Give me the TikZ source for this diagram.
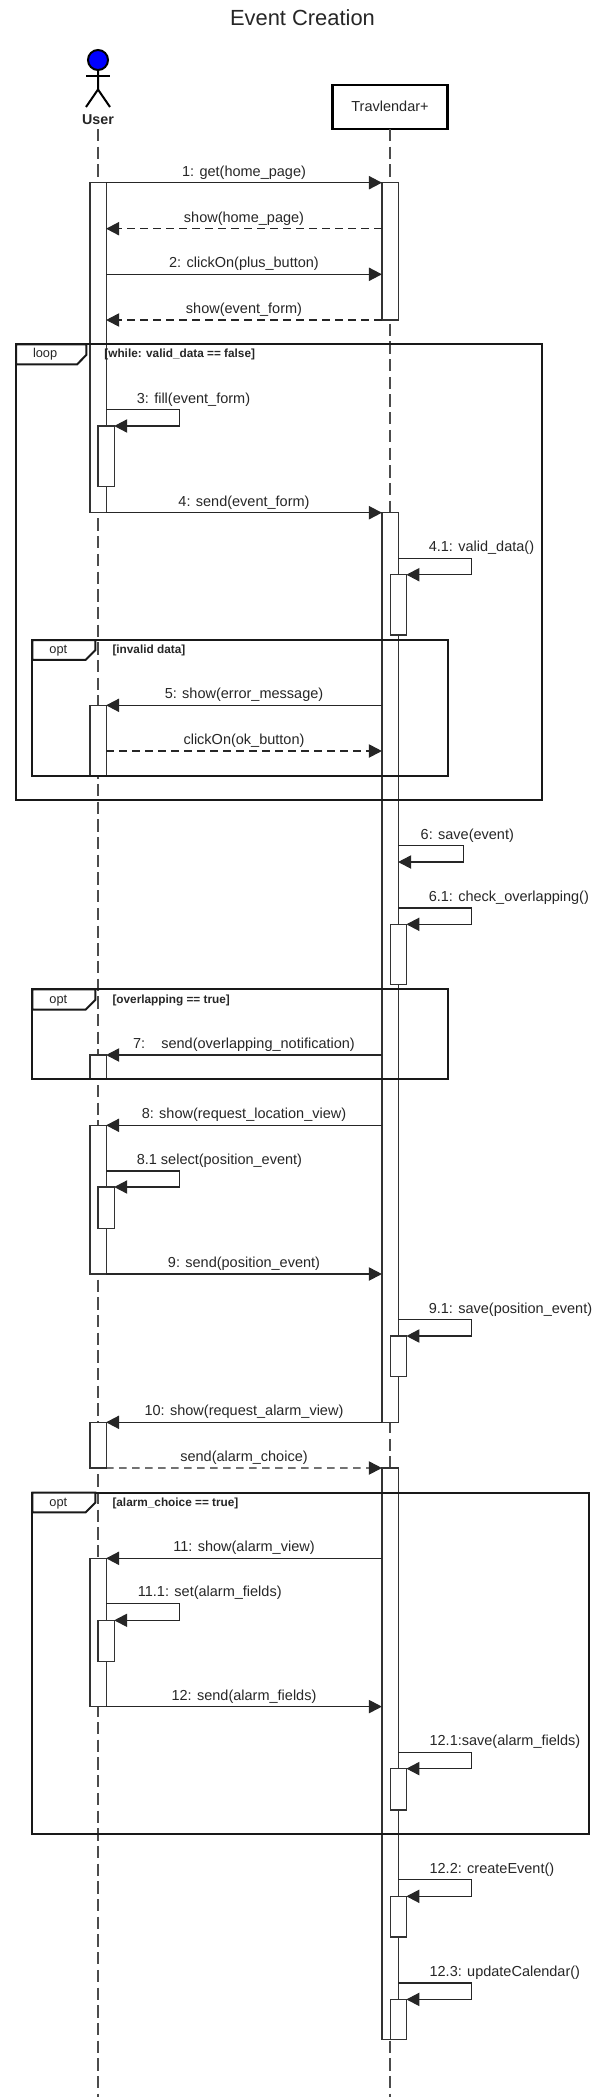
\documentclass[tikz,border=0pt]{standalone}
\usepackage{fontspec}
\setmainfont{Liberation Sans}
\usetikzlibrary{arrows.meta}

\begin{document}
\begin{tikzpicture}[x=1pt,y=-1pt,>={Triangle[length=13pt,width=13.3pt]},
                    every node/.style={text=black!85,font=\fontsize{14.5}{17}\selectfont},
                    bar/.style={rectangle,draw=black!80,fill=white,line width=1.2pt,inner sep=0pt,outer sep=0pt,anchor=north,minimum width=16.2pt},
                    frame box/.style={rectangle,draw=black!90,line width=2pt,inner sep=0pt,outer sep=0pt,anchor=north west},
                    tab/.style={draw=black!90,fill=white,line width=2pt},
                    guard/.style={anchor=west,inner sep=0pt,font=\fontsize{11.8}{14}\selectfont\bfseries},
                    tab label/.style={inner sep=0pt,font=\fontsize{12.8}{14}\selectfont},
                    self label/.style={anchor=west,inner sep=0pt},
                    life/.style={draw=black!70,line width=1.5pt,dash pattern=on 12.3pt off 5.4pt},
                    call/.style={draw=black!85,line width=1.1pt,->},
                    reply/.style={call,dash pattern=on 7.5pt off 5.5pt},
                    msg/.style={above=3pt,inner sep=0pt,midway},
                    stick/.style={draw=black,line width=2pt}]
\useasboundingbox (0,0) rectangle (605,2097);

\node (title) at (302.5,17.5) {\fontsize{21.9}{24}\selectfont Event Creation};

% user
\node[circle,draw=black,fill=blue,line width=2pt,inner sep=0pt,minimum size=20pt] (head) at (98,60) {};
\coordinate (neck) at (98,89.5);
\coordinate (armL) at (86.4,76);
\coordinate (armR) at (109.6,76);
\coordinate (legL) at (86,107);
\coordinate (legR) at (110,107);
\draw[stick] (head) -- (neck) -- (legL);
\draw[stick] (neck) -- (legR);
\draw[stick] (armL) -- (armR);
\node[inner sep=0pt,font=\fontsize{14.3}{17}\selectfont\bfseries] (user) at (98,119.5) {User};

% system
\node[rectangle,draw=black,line width=2.2pt,inner sep=0pt,outer sep=0pt,minimum width=114.9pt,minimum height=44.3pt] (sys) at (390,106.8) {Travlendar+};

\coordinate (userTop) at (98,129);
\coordinate (userEnd) at (98,2097);
\coordinate (sysEnd) at (390,2097);
\draw[life] (userTop) -- (userEnd);
\draw[life] (sys.south) -- (sysEnd);

% activations on the user side
\node[bar,minimum height=330pt] (ua) at (98,182.7) {};
\node[bar,minimum height=60.7pt] (ua1) at (106.1,426) {};
\node[bar,minimum height=70.4pt] (ub) at (98,705.3) {};
\node[bar,minimum height=24.3pt] (uc) at (98,1055) {};
\node[bar,minimum height=148.7pt] (ud) at (98,1125.3) {};
\node[bar,minimum height=41.3pt] (ud1) at (106.1,1187) {};
\node[bar,minimum height=45.7pt] (ue) at (98,1422.3) {};
\node[bar,minimum height=148.3pt] (uf) at (98,1558.3) {};
\node[bar,minimum height=41.1pt] (uf1) at (106.1,1620.3) {};

% activations on the system side
\node[bar,minimum height=137.3pt] (sa) at (390,182.7) {};
\node[bar,minimum height=909.6pt] (sb) at (390,512.7) {};
\node[bar,minimum height=571.8pt] (sc) at (390,1468) {};
\node[bar,minimum height=60.3pt] (sb1) at (398.3,574.7) {};
\node[bar,minimum height=60pt] (sb2) at (398.3,924.3) {};
\node[bar,minimum height=40.7pt] (sb3) at (398.3,1336) {};
\node[bar,minimum height=41.4pt] (sc1) at (398.3,1768.6) {};
\node[bar,minimum height=40.7pt] (sc2) at (398.3,1896.3) {};
\node[bar,minimum height=40.4pt] (sc3) at (398.3,1999.4) {};

% heights of the messages
\coordinate (m2) at (390,228.7);
\coordinate (m3) at (390,274.3);
\coordinate (m4) at (390,320);
\coordinate (m7) at (390,751);
\coordinate (m9) at (390,1274);
\coordinate (m13) at (390,1706.6);

\draw[call] (ua.north east) -- node[msg] (l1) {1: get(home\_page)} (sa.north west);
\draw[reply] (sa.west |- m2) -- node[msg] (l2) {show(home\_page)} (ua.east |- m2);
\draw[call] (ua.east |- m3) -- node[msg] (l3) {2: clickOn(plus\_button)} (sa.west |- m3);
\draw[reply] (sa.west |- m4) -- node[msg] (l4) {show(event\_form)} (ua.east |- m4);
\draw[call] (ua.south east) -- node[msg] (l5) {4: send(event\_form)} (sb.north west);
\draw[call] (sb.west |- ub.north) -- node[msg] (l6) {5: show(error\_message)} (ub.north east);
\draw[reply] (ub.east |- m7) -- node[msg] (l7) {clickOn(ok\_button)} (sb.west |- m7);
\draw[call] (sb.west |- uc.north) -- node[msg] (l8) {7:\ \ \ \ send(overlapping\_notification)} (uc.north east);
\draw[call] (sb.west |- ud.north) -- node[msg] (l9) {8: show(request\_location\_view)} (ud.north east);
\draw[call] (ud.east |- m9) -- node[msg] (l10) {9: send(position\_event)} (sb.west |- m9);
\draw[call] (sb.south west) -- node[msg] (l11) {10: show(request\_alarm\_view)} (ue.north east);
\draw[reply] (ue.south east) -- node[msg] (l12) {send(alarm\_choice)} (sc.north west);
\draw[call] (sc.west |- uf.north) -- node[msg] (l13) {11: show(alarm\_view)} (uf.north east);
\draw[call] (uf.east |- m13) -- node[msg] (l14) {12: send(alarm\_fields)} (sc.west |- m13);

% self calls
\coordinate (s1) at (179.8,409.7);
\coordinate (s2) at (471.8,558.3);
\coordinate (s3) at (463.7,845.7);
\coordinate (s3e) at (463.7,862);
\coordinate (s4) at (471.8,908);
\coordinate (s5) at (179.8,1171);
\coordinate (s6) at (471.8,1319.7);
\coordinate (s7) at (179.8,1603.8);
\coordinate (s8) at (471.8,1752.5);
\coordinate (s9) at (471.8,1879.5);
\coordinate (s10) at (471.8,1983);

\draw[call] (ua.east |- s1) -- (s1) |- (ua1.north east);
\draw[call] (sb.east |- s2) -- (s2) |- (sb1.north east);
\draw[call] (sb.east |- s3) -- (s3) -- (s3e) -- (sb.east |- s3e);
\draw[call] (sb.east |- s4) -- (s4) |- (sb2.north east);
\draw[call] (ud.east |- s5) -- (s5) |- (ud1.north east);
\draw[call] (sb.east |- s6) -- (s6) |- (sb3.north east);
\draw[call] (uf.east |- s7) -- (s7) |- (uf1.north east);
\draw[call] (sc.east |- s8) -- (s8) |- (sc1.north east);
\draw[call] (sc.east |- s9) -- (s9) |- (sc2.north east);
\draw[call] (sc.east |- s10) -- (s10) |- (sc3.north east);

\node[self label] (t1) at (136.6,399.3) {3: fill(event\_form)};
\node[self label] (t2) at (428.6,548) {4.1: valid\_data()};
\node[self label] (t3) at (420.5,835.6) {6: save(event)};
\node[self label] (t4) at (428.6,897.3) {6.1: check\_overlapping()};
\node[self label] (t5) at (136.6,1160.6) {8.1 select(position\_event)};
\node[self label] (t6) at (428.6,1309.3) {9.1: save(position\_event)};
\node[self label] (t7) at (137.7,1593.1) {11.1: set(alarm\_fields)};
\node[self label] (t8) at (429.4,1742.1) {12.1:save(alarm\_fields)};
\node[self label] (t9) at (429.4,1869.5) {12.2: createEvent()};
\node[self label] (t10) at (429.4,1972.3) {12.3: updateCalendar()};

% frames
\node[frame box,minimum width=525.5pt,minimum height=455.7pt] (loop) at (16.2,344.3) {};
\node[frame box,minimum width=415.1pt,minimum height=135.7pt] (opta) at (32.4,640) {};
\node[frame box,minimum width=415.1pt,minimum height=90pt] (optb) at (32.4,989.3) {};
\node[frame box,minimum width=556.7pt,minimum height=341.3pt] (optc) at (32.4,1492.7) {};

\path[tab] (loop.north west) -- ++(70.2,0) -- ++(0,10.5) -- ++(-9.2,9.5) -- ++(-61,0) -- cycle;
\path[tab] (opta.north west) -- ++(62.9,0) -- ++(0,10.2) -- ++(-9.7,9.6) -- ++(-53.2,0) -- cycle;
\path[tab] (optb.north west) -- ++(62.9,0) -- ++(0,10.7) -- ++(-9.7,9.7) -- ++(-53.2,0) -- cycle;
\path[tab] (optc.north west) -- ++(62.9,0) -- ++(0,10) -- ++(-9.7,9.6) -- ++(-53.2,0) -- cycle;

\node[tab label] (tl1) at (45.1,354) {loop};
\node[tab label] (tl2) at (58.3,650.3) {opt};
\node[tab label] (tl3) at (58.3,1000.3) {opt};
\node[tab label] (tl4) at (58.3,1503.3) {opt};

\node[guard] (g1) at (104.2,354) {[while: valid\_data == false]};
\node[guard] (g2) at (112.3,650.3) {[invalid data]};
\node[guard] (g3) at (112.3,1000.3) {[overlapping == true]};
\node[guard] (g4) at (112.3,1503.3) {[alarm\_choice == true]};
\end{tikzpicture}
\end{document}
